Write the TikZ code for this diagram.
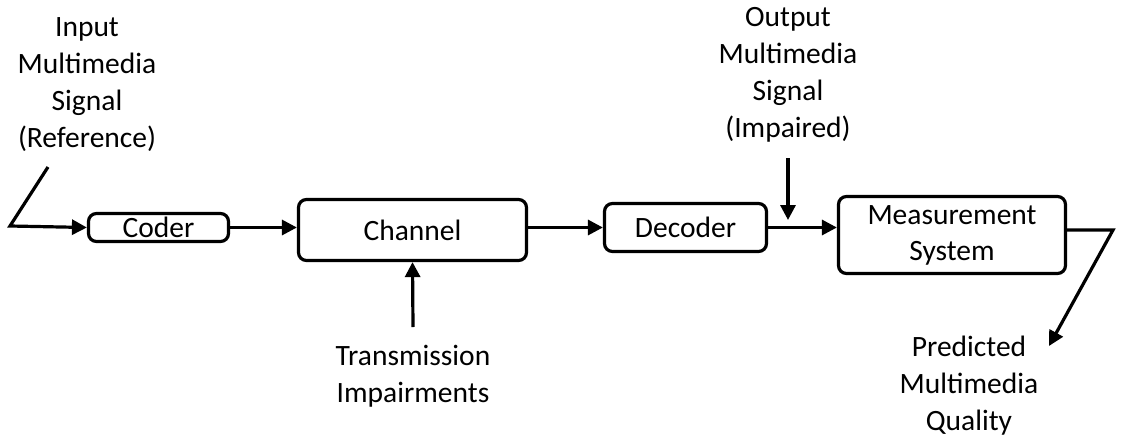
\documentclass[tikz,border=0pt]{standalone}
\usepackage{fontspec}
\setmainfont{Carlito}
\usetikzlibrary{arrows.meta}
\begin{document}
\begin{tikzpicture}[x=1pt,y=-1pt,
  txt/.style={font=\fontsize{29.5}{37}\selectfont},
  blk/.style={draw, line width=3.2pt, rounded corners=8pt, inner sep=0pt, align=center, txt},
  lbl/.style={align=center, inner sep=0pt, txt},
  ln/.style={line width=3.2pt, line join=miter},
  arr/.style={ln, -{Triangle[length=15pt,width=15pt]}}]
\useasboundingbox (0,0) rectangle (1122,442);
% blocks
\node[blk, minimum width=140pt, minimum height=28pt] (coder) at (158.5,227.5) {Coder};
\node[blk, minimum width=228pt, minimum height=61pt] (channel) at (412.5,230) {Channel};
\node[blk, minimum width=162pt, minimum height=48pt] (decoder) at (685.5,227.5) {Decoder};
\node[blk, minimum width=227pt, minimum height=77pt] (meas) at (952,235) {Measurement\\[-1pt]System};
% labels
\node[lbl, anchor=base] (inlbl) at (87,147) {Input\\Multimedia\\Signal\\(Reference)};
\node[lbl, anchor=base] (outlbl) at (788,137) {Output\\Multimedia\\Signal\\(Impaired)};
\node[lbl, anchor=base] (trans) at (413,402) {Transmission\\Impairments};
\node[lbl, anchor=base] (pred) at (969,430) {Predicted\\Multimedia\\Quality};
% coordinates
\coordinate (inS) at (48,167);
\coordinate (inC) at (10,226);
\coordinate (impS) at (788,158);
\coordinate (impE) at (788,220);
\coordinate (trS) at (413,327);
\coordinate (mC) at (1113,230);
\coordinate (mE) at (1049,346);
% connectors
\draw[arr] (inS) -- (inC) -- (coder.west);
\draw[arr] (coder.east) -- (coder.east -| channel.west);
\draw[arr] (decoder.west -| channel.east) -- (decoder.west);
\draw[arr] (decoder.east) -- (decoder.east -| meas.west);
\draw[arr] (impS) -- (impE);
\draw[arr] (trS) -- (channel.south);
\draw[arr] ([yshift=5pt]meas.east) -- (mC) -- (mE);
\end{tikzpicture}
\end{document}
